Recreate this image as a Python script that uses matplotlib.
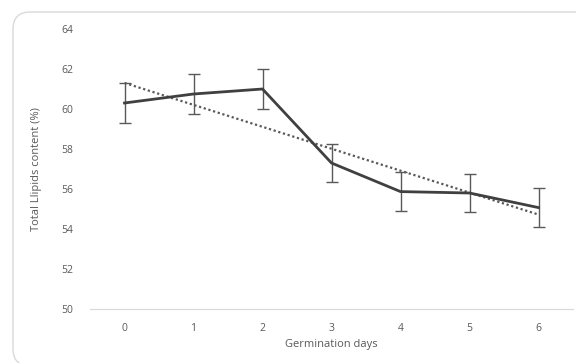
import numpy as np
import matplotlib
matplotlib.use("Agg")
import matplotlib.pyplot as plt
from matplotlib.patches import FancyBboxPatch

# Germination days and total lipid content (%)
days = [0, 1, 2, 3, 4, 5, 6]
lipids = [60.3, 60.75, 61.0, 57.3, 55.87, 55.8, 55.07]
errors = [1.0, 1.0, 1.0, 0.97, 0.97, 0.97, 0.97]

plt.rcParams['font.family'] = ['Open Sans', 'DejaVu Sans']
text_color = '#595959'

fig = plt.figure(figsize=(5.76, 3.63), dpi=100)

# rounded chart border (right and bottom edges run off the image)
W, H = 576, 363
border = FancyBboxPatch((13 / W, 1 - 366 / H), 600 / W, 354 / H,
                        boxstyle="round,pad=0,rounding_size=0.03",
                        transform=fig.transFigure, facecolor='none',
                        edgecolor='#d9d9d9', linewidth=1, mutation_aspect=W / H,
                        zorder=-1)
fig.patches.append(border)

ax = fig.add_axes([90 / W, 1 - 309 / H, 483 / W, 280 / H])
ax.set_facecolor('none')

ax.errorbar(days, lipids, yerr=errors, color='#404040', linewidth=2,
            ecolor='#595959', elinewidth=1, capsize=4, capthick=1, zorder=3)

# linear trend line
slope, intercept = np.polyfit(days, lipids, 1)
trend = [slope * d + intercept for d in days]
ax.plot(days, trend, color='#595959', linestyle=(0, (1, 1.2)), linewidth=1.6, zorder=2)

ax.set_xlim(-0.5, 6.5)
ax.set_ylim(50, 64)
ax.set_yticks(range(50, 65, 2))
ax.set_xticks(days)
ax.tick_params(length=0, labelsize=7.5, labelcolor=text_color, pad=10)
ax.tick_params(axis='y', pad=12)

for side in ['top', 'right', 'left']:
    ax.spines[side].set_visible(False)
ax.spines['bottom'].set_color('#d9d9d9')

ax.set_xlabel('Germination days', fontsize=8, color=text_color, labelpad=4)
ax.set_ylabel('Total Llipids content (%)', fontsize=8, color=text_color, labelpad=14)

fig.savefig('out.png', dpi=100)
